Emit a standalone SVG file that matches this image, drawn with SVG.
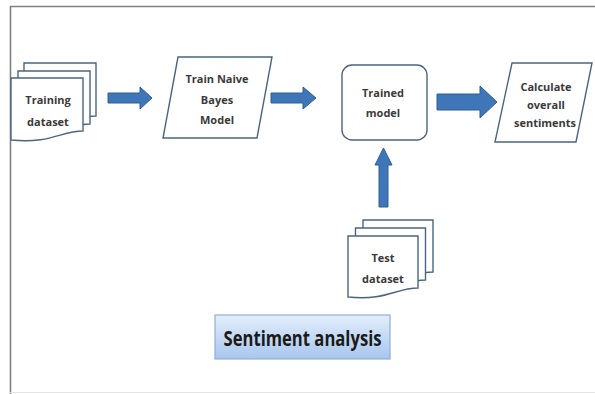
<svg xmlns="http://www.w3.org/2000/svg" width="595" height="394" viewBox="0 0 595 394">
  <defs>
    <linearGradient id="sa" x1="0" y1="0" x2="0" y2="1">
      <stop offset="0" stop-color="#e3eefb"/>
      <stop offset="1" stop-color="#a8c6ee"/>
    </linearGradient>
    <path id="doc" d="M0,0 H72 V53 C50,53 40,66 0,62 Z"/>
    <path id="doc2" d="M0,0 H70 V52 C48,52 38,65 0,61 Z"/>
  </defs>
  <style>
    .shape { fill: #ffffff; stroke: #4b6580; stroke-width: 1.4; }
    .arrow { fill: #3f76b8; stroke: #2f5f96; stroke-width: 1; }
    .lbl { font-family: "Open Sans", "Liberation Sans", sans-serif; font-weight: bold; font-size: 11px; fill: #3a3a3a; text-anchor: middle; }
    .title { font-family: "Open Sans", "Liberation Sans", sans-serif; font-weight: bold; font-size: 21px; fill: #1a1a1a; text-anchor: middle; }
  </style>
  <rect width="595" height="394" fill="#ffffff"/>
  <!-- frame -->
  <line x1="10" y1="6.5" x2="595" y2="6.5" stroke="#808080" stroke-width="1.6"/>
  <line x1="10.5" y1="6" x2="10.5" y2="394" stroke="#808080" stroke-width="1.6"/>
  <line x1="10" y1="392.5" x2="595" y2="392.5" stroke="#e4e4e4" stroke-width="1"/>

  <g id="connectors">
    <path class="arrow" d="M108,93 H140 V87 L152,98 L140,109 V103 H108 Z"/>
    <path class="arrow" d="M271,93 H303 V87 L316,98 L303,109 V103 H271 Z"/>
    <path class="arrow" d="M437,94 H480 V86 L497,102 L480,118 V110 H437 Z"/>
    <path class="arrow" d="M379,207 V165 H375 L383.5,148 L392,165 H388 V207 Z"/>
  </g>

  <g id="training-dataset">
    <use href="#doc" class="shape" transform="translate(24,63)"/>
    <use href="#doc" class="shape" transform="translate(18,71)"/>
    <use href="#doc" class="shape" transform="translate(11,78)"/>
    <text class="lbl" x="48" y="104">Training</text>
    <text class="lbl" x="48" y="126">dataset</text>
  </g>

  <g id="train-naive-bayes">
    <path class="shape" d="M178,57 H272 L257,138 H163 Z"/>
    <text class="lbl" x="217" y="83">Train Naive</text>
    <text class="lbl" x="217" y="104">Bayes</text>
    <text class="lbl" x="217" y="124">Model</text>
  </g>

  <g id="trained-model">
    <rect class="shape" x="342" y="65" width="85" height="75" rx="10" ry="10"/>
    <text class="lbl" x="383" y="97">Trained</text>
    <text class="lbl" x="383" y="117">model</text>
  </g>

  <g id="calculate-sentiments">
    <path class="shape" d="M512,63 H592 L576,142 H495 Z"/>
    <text class="lbl" x="546" y="91">Calculate</text>
    <text class="lbl" x="546" y="109">overall</text>
    <text class="lbl" x="545" y="127">sentiments</text>
  </g>

  <g id="test-dataset">
    <use href="#doc2" class="shape" transform="translate(363,220)"/>
    <use href="#doc2" class="shape" transform="translate(355.5,228)"/>
    <use href="#doc2" class="shape" transform="translate(348,236)"/>
    <text class="lbl" x="383" y="262">Test</text>
    <text class="lbl" x="383" y="283">dataset</text>
  </g>

  <g id="sentiment-analysis">
    <rect x="215" y="315" width="175" height="44" fill="url(#sa)" stroke="#8fb0d6" stroke-width="1.2"/>
    <text class="title" x="302.5" y="346" textLength="158" lengthAdjust="spacingAndGlyphs">Sentiment analysis</text>
  </g>
</svg>
